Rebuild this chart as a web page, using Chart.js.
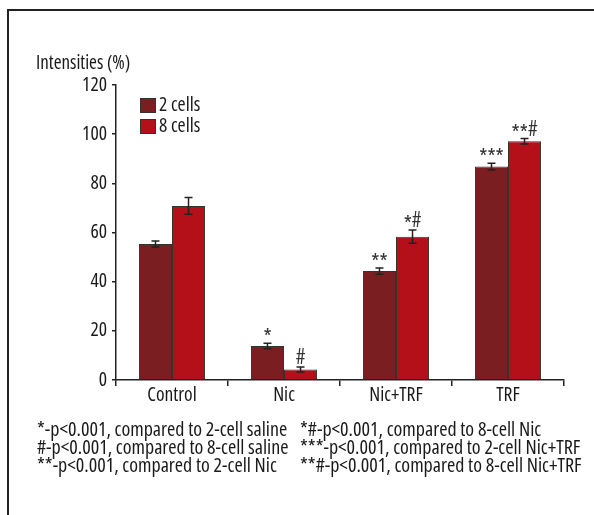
<!DOCTYPE html>
<html>
<head>
<meta charset="utf-8">
<script src="https://cdn.jsdelivr.net/npm/chart.js@4"></script>
<style>
  html, body { margin: 0; padding: 0; background: #fff; }
  body { width: 594px; height: 515px; position: relative; overflow: hidden;
         font-family: "Open Sans", sans-serif; font-stretch: 75%; color: #1a1a1a; }
  #frame { position: absolute; left: 7px; top: 9px; width: 620px; height: 540px;
           border-left: 2px solid #222; border-top: 2px solid #222; }
  #wrap { position: absolute; left: 0; top: 0; width: 594px; height: 515px; }
  #ytitle { position: absolute; left: 36px; top: 53px; font-size: 19px; line-height: 18px; white-space: nowrap; }
  .notes { position: absolute; top: 420px; font-size: 20px; line-height: 18px; white-space: nowrap; }
</style>
</head>
<body>
<div id="frame"></div>
<div id="wrap"><canvas id="chart" width="594" height="515"></canvas></div>
<div id="ytitle">Intensities (%)</div>
<div class="notes" id="notesLeft" style="left:37px"></div>
<div class="notes" id="notesRight" style="left:300px"></div>
<script>
const categories = ['Control', 'Nic', 'Nic+TRF', 'TRF'];
const seriesNames = ['2 cells', '8 cells'];
const cells2 = [55.3, 13.8, 44.3, 86.8];
const cells8 = [70.8, 4.3, 58.3, 97.1];
const err2 = [1.2, 1.1, 1.3, 1.4];
const err8 = [3.4, 1.0, 2.7, 1.1];
const marks2 = ['', '*', '**', '***'];
const marks8 = ['', '#', '*#', '**#'];
const yTicks = [0, 20, 40, 60, 80, 100, 120];
const notesLeft = [
    '*-p<0.001, compared to 2-cell saline',
    '#-p<0.001, compared to 8-cell saline',
    '**-p<0.001, compared to 2-cell Nic'
];
const notesRight = [
    '*#-p<0.001, compared to 8-cell Nic',
    '***-p<0.001, compared to 2-cell Nic+TRF',
    '**#-p<0.001, compared to 8-cell Nic+TRF'
];

const FONT = '"Open Sans", sans-serif';
const colors = ['#7a1e22', '#b3101a'];

const esc = t => t.replace(/</g, '&lt;');
document.getElementById('notesLeft').innerHTML = notesLeft.map(t => `<div>${esc(t)}</div>`).join('');
document.getElementById('notesRight').innerHTML = notesRight.map(t => `<div>${esc(t)}</div>`).join('');

// error bars + significance marks
const errorBars = {
    id: 'errorBars',
    afterDatasetsDraw(chart) {
        const ctx = chart.ctx;
        const yScale = chart.scales.y;
        const errs = [err2, err8];
        const marks = [marks2, marks8];
        ctx.save();
        chart.data.datasets.forEach((ds, di) => {
            const meta = chart.getDatasetMeta(di);
            meta.data.forEach((bar, i) => {
                const v = ds.data[i];
                const e = errs[di][i];
                const top = yScale.getPixelForValue(v + e);
                const bot = yScale.getPixelForValue(v - e);
                ctx.strokeStyle = '#222';
                ctx.lineWidth = 1.5;
                ctx.beginPath();
                ctx.moveTo(bar.x, top); ctx.lineTo(bar.x, bot);
                ctx.moveTo(bar.x - 4, top); ctx.lineTo(bar.x + 4, top);
                ctx.moveTo(bar.x - 4, bot); ctx.lineTo(bar.x + 4, bot);
                ctx.stroke();
                const m = marks[di][i];
                if (m) {
                    // asterisks sit high in this font, so nudge them down to the # level
                    ctx.fillStyle = '#333';
                    ctx.font = 'condensed 21px ' + FONT;
                    ctx.textAlign = 'left';
                    ctx.textBaseline = 'alphabetic';
                    let x = bar.x - ctx.measureText(m).width / 2;
                    for (const ch of m) {
                        ctx.fillText(ch, x, top - 3 + (ch === '*' ? 4 : 0));
                        x += ctx.measureText(ch).width;
                    }
                }
            });
        });
        ctx.restore();
    }
};

// legend boxes drawn inside the plot
const innerLegend = {
    id: 'innerLegend',
    afterDraw(chart) {
        const ctx = chart.ctx;
        ctx.save();
        chart.data.datasets.forEach((ds, i) => {
            const y = 98 + i * 21;
            ctx.fillStyle = ds.backgroundColor;
            ctx.fillRect(140, y, 16, 15);
            ctx.strokeStyle = '#333';
            ctx.lineWidth = 1;
            ctx.strokeRect(140.5, y + 0.5, 15, 14);
            ctx.fillStyle = '#1a1a1a';
            ctx.font = 'condensed 19.5px ' + FONT;
            ctx.textAlign = 'left';
            ctx.textBaseline = 'middle';
            ctx.fillText(ds.label, 159, y + 7);
        });
        ctx.restore();
    }
};

// 'condensed' goes in the weight slot so it lands in the canvas font string
const tickFont = { family: FONT, size: 19.5, weight: 'condensed' };

new Chart(document.getElementById('chart'), {
    type: 'bar',
    data: {
        labels: categories,
        datasets: [cells2, cells8].map((d, i) => ({
            label: seriesNames[i],
            data: d,
            backgroundColor: colors[i],
            borderColor: '#333',
            borderWidth: 1,
            barPercentage: 1,
            categoryPercentage: 0.59
        }))
    },
    options: {
        responsive: false,
        animation: false,
        layout: { padding: { left: 0, top: 85, right: 30, bottom: 111 } },
        plugins: { legend: { display: false }, tooltip: { enabled: false } },
        scales: {
            x: {
                afterFit: s => { s.height = 24; },
                border: { display: true, color: '#222', width: 1.5 },
                grid: { display: true, drawOnChartArea: false, drawTicks: true, tickLength: 6, color: '#222', lineWidth: 1.5 },
                ticks: { color: '#1a1a1a', padding: -2, font: tickFont }
            },
            y: {
                min: 0, max: 120,
                afterFit: s => { s.width = 116; },
                afterBuildTicks: s => { s.ticks = yTicks.map(v => ({ value: v })); },
                border: { display: true, color: '#222', width: 1.5 },
                grid: { display: true, drawOnChartArea: false, drawTicks: true, tickLength: 4, color: '#222', lineWidth: 1.5 },
                ticks: { color: '#1a1a1a', padding: 5, font: tickFont }
            }
        }
    },
    plugins: [errorBars, innerLegend]
});
</script>
</body>
</html>
